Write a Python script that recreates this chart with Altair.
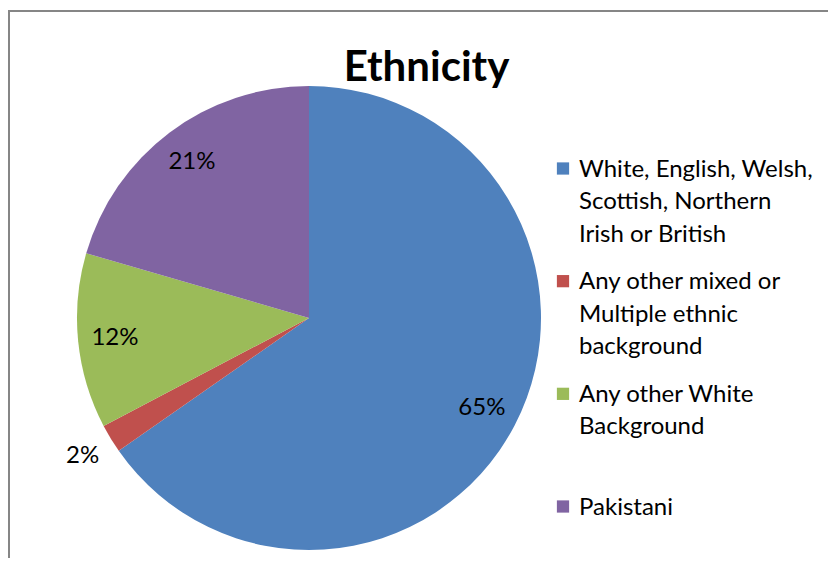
import math
import altair as alt
import pandas as pd

# ---- data ----
categories = [
    "White, English, Welsh, Scottish, Northern Irish or British",
    "Any other mixed or Multiple ethnic background",
    "Any other White Background",
    "Pakistani",
]
legend_lines = [
    ["White, English, Welsh,", "Scottish, Northern", "Irish or British"],
    ["Any other mixed or", "Multiple ethnic", "background"],
    ["Any other White", "Background"],
    ["Pakistani"],
]
values = [65.3, 2.0, 12.2, 20.5]
colors = ["#4F81BD", "#C0504D", "#9BBB59", "#8064A2"]
title_text = "Ethnicity"

FONT = "Lato"
FS = 24
W, H = 820, 550
CX, CY, R = 301, 310, 232

df = pd.DataFrame({
    "idx": list(range(len(categories))),
    "category": categories,
    "value": values,
    "lines": legend_lines,
})

theta_scale = alt.Scale(domain=[0, 100], range=[0, 2 * math.pi])
color_scale = alt.Scale(domain=categories, range=colors)

base = alt.Chart(df)

pie = base.mark_arc(outerRadius=R).encode(
    theta=alt.Theta("value:Q", stack=True, scale=theta_scale),
    color=alt.Color("category:N", scale=color_scale, legend=None),
    order=alt.Order("idx:Q"),
    x=alt.value(CX),
    y=alt.value(CY),
)

lab_base = base.transform_window(
    cum="sum(value)", sort=[alt.SortField("idx")], frame=[None, 0]
).transform_calculate(
    mid="datum.cum - datum.value / 2",
    pct="format(datum.value, '.0f') + '%'",
)

inside = lab_base.transform_filter("datum.value >= 5").mark_text(
    font=FONT, fontSize=FS, color="black", align="center", baseline="middle"
).encode(
    theta=alt.Theta("mid:Q", stack=False, scale=theta_scale),
    radius=alt.value(195),
    text="pct:N",
    x=alt.value(CX),
    y=alt.value(CY),
)

outside = lab_base.transform_filter("datum.value < 5").mark_text(
    font=FONT, fontSize=FS, color="black", align="center", baseline="middle"
).encode(
    theta=alt.Theta("mid:Q", stack=False, scale=theta_scale),
    radius=alt.value(265),
    text="pct:N",
    x=alt.value(CX),
    y=alt.value(CY),
)

leg_y = alt.Y("idx:Q", scale=alt.Scale(domain=[0, 3], range=[160.5, 498.5], nice=False, zero=False), axis=None)

leg_sym = base.mark_square(size=150, opacity=1, filled=True).encode(
    x=alt.value(555),
    y=leg_y,
    color=alt.Color("category:N", scale=color_scale, legend=None),
)

leg_txt = base.mark_text(
    font=FONT, fontSize=FS, color="black", align="left", baseline="alphabetic",
    dy=8, lineHeight=32.5,
).encode(
    x=alt.value(571),
    y=leg_y,
    text="lines",
)

title = alt.Chart(pd.DataFrame({"t": [title_text]})).mark_text(
    font=FONT, fontSize=42, fontWeight="bold", color="black",
    align="center", baseline="alphabetic",
).encode(
    x=alt.value(418.5),
    y=alt.value(73),
    text="t:N",
)

frame_df = pd.DataFrame({"k": [0]})
top_line = alt.Chart(frame_df).mark_rule(color="#868686", strokeWidth=2).encode(
    x=alt.value(0), x2=alt.value(W), y=alt.value(3)
)
left_line = alt.Chart(frame_df).mark_rule(color="#868686", strokeWidth=2).encode(
    x=alt.value(1), y=alt.value(3), y2=alt.value(H)
)

chart = alt.layer(
    top_line, left_line, pie, inside, outside, leg_sym, leg_txt, title
).properties(
    width=W, height=H, autosize=alt.AutoSizeParams(type="none"), padding=0,
    background="white",
).configure_view(stroke=None)

chart.save("out.html", embed_options={"renderer": "svg", "actions": False})
